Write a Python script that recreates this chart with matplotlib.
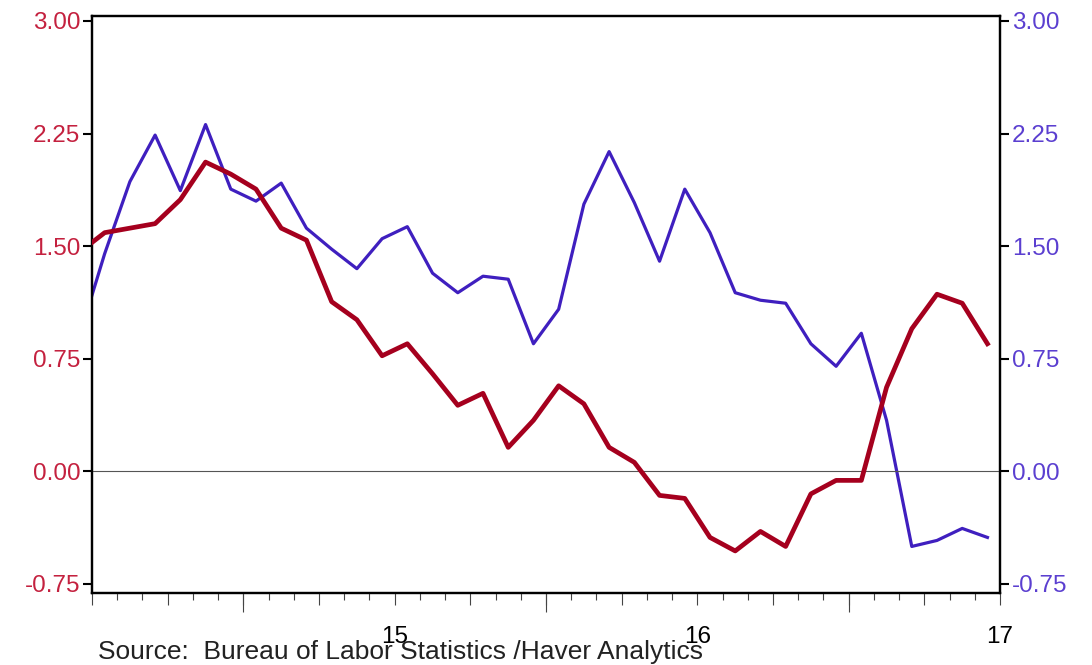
import numpy as np
import pandas as pd
import matplotlib
matplotlib.use("Agg")
import matplotlib.pyplot as plt

plt.rcParams["font.family"] = ["Liberation Sans", "DejaVu Sans"]

# monthly data, Dec 2013 - Dec 2016
months = pd.period_range("2013-12", "2016-12", freq="M")

red_vals = [1.46, 1.59, 1.62, 1.65, 1.81, 2.06, 1.98, 1.88, 1.62, 1.54, 1.13, 1.01,
            0.77, 0.85, 0.65, 0.44, 0.52, 0.16, 0.34, 0.57, 0.45, 0.16, 0.06, -0.16,
            -0.18, -0.44, -0.53, -0.40, -0.50, -0.15, -0.06, -0.06, 0.56, 0.95, 1.18,
            1.12, 0.85]

blue_vals = [0.90, 1.45, 1.93, 2.24, 1.87, 2.31, 1.88, 1.80, 1.92, 1.62, 1.48, 1.35,
             1.55, 1.63, 1.32, 1.19, 1.30, 1.28, 0.85, 1.08, 1.78, 2.13, 1.79, 1.40,
             1.88, 1.59, 1.19, 1.14, 1.12, 0.85, 0.70, 0.92, 0.34, -0.50, -0.46,
             -0.38, -0.44]

y_ticks = [-0.75, 0.00, 0.75, 1.50, 2.25, 3.00]
year_labels = ["", "15", "16", "17"]

red_line = "#A5001E"
blue_line = "#3F1FBF"
red_text = "#C4213F"
blue_text = "#5B3FD0"

# mid-month positions in decimal years
x = months.year + (months.month - 0.5) / 12.0

fig = plt.figure(figsize=(10.92, 6.65), dpi=100)
ax = fig.add_axes([0.0843, 0.1083, 0.8315, 0.8676])
ax2 = ax.twinx()

ax.axhline(0, color="#555555", lw=0.8, zorder=1)

ax.plot(x, red_vals, color=red_line, lw=3.4, solid_joinstyle="round", zorder=3)
ax2.plot(x, blue_vals, color=blue_line, lw=2.3, solid_joinstyle="round", zorder=2)

ymin, ymax = -0.81, 3.033
for a in (ax, ax2):
    a.set_ylim(ymin, ymax)
    a.set_yticks(y_ticks)
    a.set_yticklabels([f"{v:.2f}" for v in y_ticks])
    a.set_xlim(2014.0, 2017.0)
    for s in a.spines.values():
        s.set_linewidth(1.6)

ax.set_zorder(ax2.get_zorder() + 1)
ax.patch.set_visible(False)

ax.tick_params(axis="y", direction="out", length=6.5, width=1.5,
               labelsize=17.5, labelcolor=red_text, pad=2)
ax2.tick_params(axis="y", direction="out", length=6.5, width=1.5,
                labelsize=17.5, labelcolor=blue_text, pad=2)

# x axis: quarterly ticks, monthly minor, labels at January
quarters = np.arange(2014.0, 2017.01, 0.25)
ax.set_xticks(quarters)
ax.set_xticklabels([year_labels[int(q - 2014)] if q % 1 == 0 else "" for q in quarters])
ax.set_xticks(np.arange(2014.0, 2017.01, 1 / 12), minor=True)
ax.tick_params(axis="x", which="major", direction="out", length=8.6, width=0.8,
               color="#444444", labelsize=17.5, pad=15)
ax.tick_params(axis="x", which="minor", direction="out", length=5, width=0.8,
               color="#444444")

# longer ticks at mid-year
sec = ax.secondary_xaxis("bottom")
sec.set_xticks(np.arange(2014.5, 2017.0, 1.0))
sec.tick_params(axis="x", direction="out", length=14, width=0.8, color="#444444",
                labelbottom=False)
sec.spines["bottom"].set_visible(False)

fig.text(0.0897, 0.0195, "Source:  Bureau of Labor Statistics /Haver Analytics",
         fontsize=19, color="#222222", va="center", ha="left")

fig.savefig("out.png", dpi=100)
